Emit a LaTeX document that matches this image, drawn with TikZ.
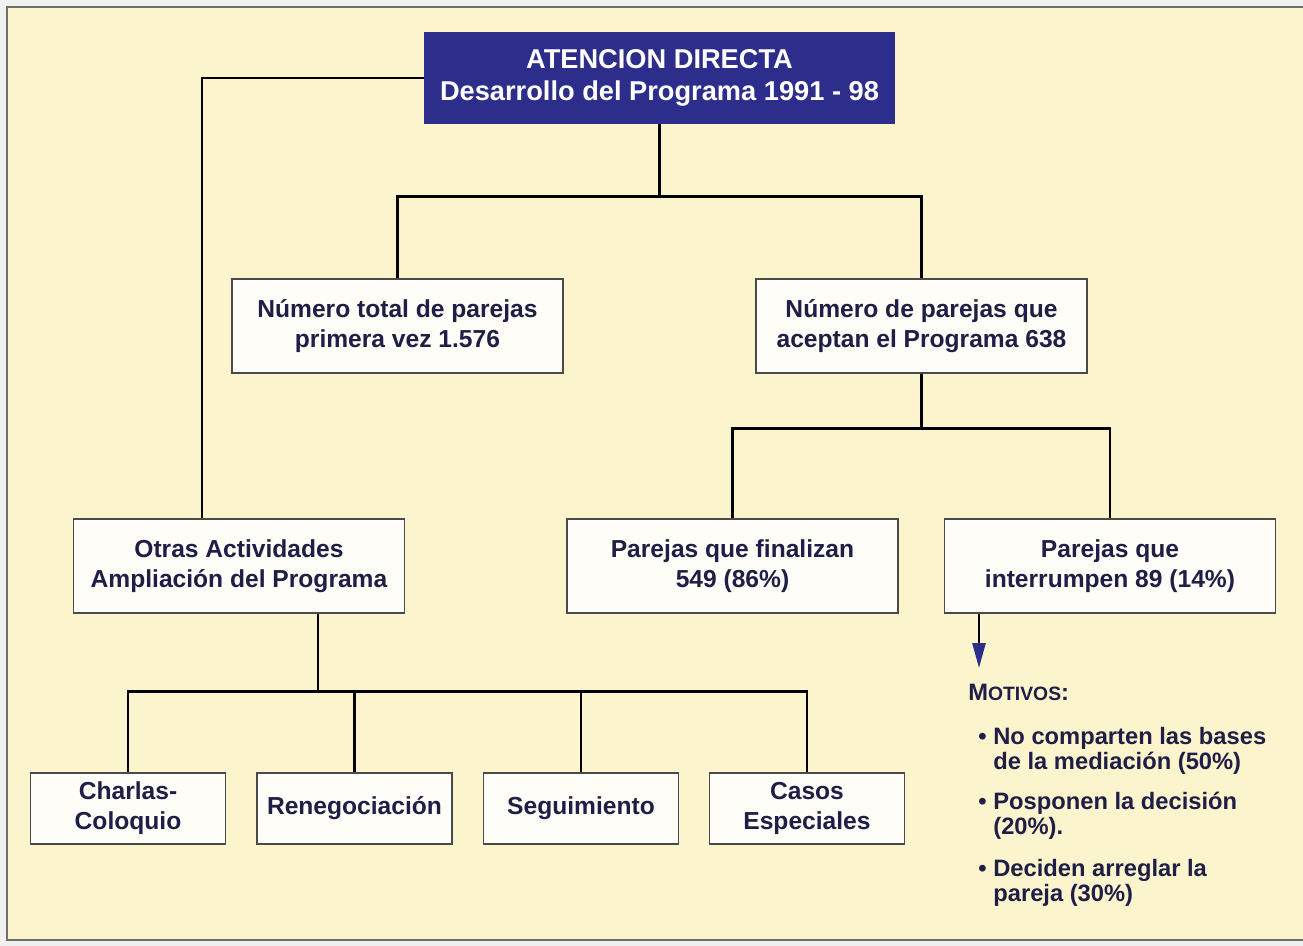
\documentclass[tikz,border=0pt]{standalone}
\usepackage{fontspec}
\setmainfont{Liberation Sans}
\usetikzlibrary{arrows.meta,positioning}

\definecolor{paper}{HTML}{FCF4CC}
\definecolor{boxfill}{HTML}{FEFDF7}
\definecolor{boxline}{HTML}{4A4A4A}
\definecolor{titleblue}{HTML}{2D2D8C}
\definecolor{ink}{HTML}{1E1E46}

\tikzset{
  box/.style={draw=boxline, line width=0.8pt, fill=boxfill, text=ink, align=center,
    inner sep=0pt, font=\bfseries\fontsize{14}{17}\selectfont},
  bigbox/.style={box, minimum width=6.62cm, minimum height=1.88cm},
  smallbox/.style={box, minimum width=3.9cm, minimum height=1.42cm},
  titlebox/.style={fill=titleblue, text=white, align=center, inner sep=0pt,
    minimum width=9.42cm, minimum height=1.84cm, font=\bfseries\fontsize{15.5}{18}\selectfont},
  conn/.style={line width=1.5pt, black},
  motivo/.style={anchor=base west, align=left, text=ink, inner sep=0pt,
    font=\bfseries\fontsize{13.5}{13.7}\selectfont}
}

\begin{document}
\begin{tikzpicture}[x=0.02cm, y=-0.02cm]
    % paper and frame
    \useasboundingbox (0,0) rectangle (1303,946);
    \fill[white!94!black] (0,0) rectangle (1303,946);
    \fill[paper] (7,7) rectangle (1303,940);
    \draw[boxline!80, line width=1pt] (1303,7) -- (7,7) -- (7,940) -- (1303,940);

    % boxes
    \node[titlebox] (top) at (659.5,78) {ATENCION DIRECTA\\Desarrollo del Programa 1991 - 98};
    \node[bigbox] (total) at (397.5,326) {Número total de parejas\\primera vez 1.576};
    \node[bigbox] (acept) at (921.5,326) {Número de parejas que\\aceptan el Programa 638};
    \node[bigbox] (otras) at (239,566) {Otras Actividades\\Ampliación del Programa};
    \node[bigbox] (final) at (732.5,566) {Parejas que finalizan\\549 (86\%)};
    \node[bigbox] (interr) at (1110,566) {Parejas que\\interrumpen 89 (14\%)};
    \node[smallbox] (charlas) at (128,808.5) {Charlas-\\Coloquio};
    \node[smallbox] (reneg) at (354.5,808.5) {Renegociación};
    \node[smallbox] (segui) at (581,808.5) {Seguimiento};
    \node[smallbox] (casos) at (807,808.5) {Casos\\Especiales};

    % connectors
    \draw[conn] (top.west) -| ([xshift=-0.74cm]otras.north);
    \draw[conn] (top.south) -- ++(0,72) coordinate (j1);
    \draw[conn] (total.north) |- (j1) -| (acept.north);
    \draw[conn] (acept.south) -- ++(0,55) coordinate (j2);
    \draw[conn] (final.north) |- (j2) -| (interr.north);
    \draw[conn] ([xshift=1.58cm]otras.south) -- ++(0,78) coordinate (j3);
    \draw[conn] (charlas.north) |- (j3) -| (casos.north);
    \draw[conn] (reneg.north) -- (reneg.north |- j3);
    \draw[conn] (segui.north) -- (segui.north |- j3);

    % motivos
    \coordinate (tip) at (979,668);
    \draw[conn, -{Triangle[length=0.5cm, width=0.26cm, color=titleblue]}] (tip |- interr.south) -- (tip);
    \node[motivo, anchor=west] (motivos) at (968,692) {M{\fontsize{11}{13}\selectfont OTIVOS}:};
    \node[motivo] (m1) at (993,769) {\llap{\textbullet\ }No comparten las bases\\de la mediación (50\%)};
    \node[motivo] (m2) at (993,834) {\llap{\textbullet\ }Posponen la decisión\\(20\%).};
    \node[motivo] (m3) at (993,901) {\llap{\textbullet\ }Deciden arreglar la\\pareja (30\%)};
\end{tikzpicture}
\end{document}
